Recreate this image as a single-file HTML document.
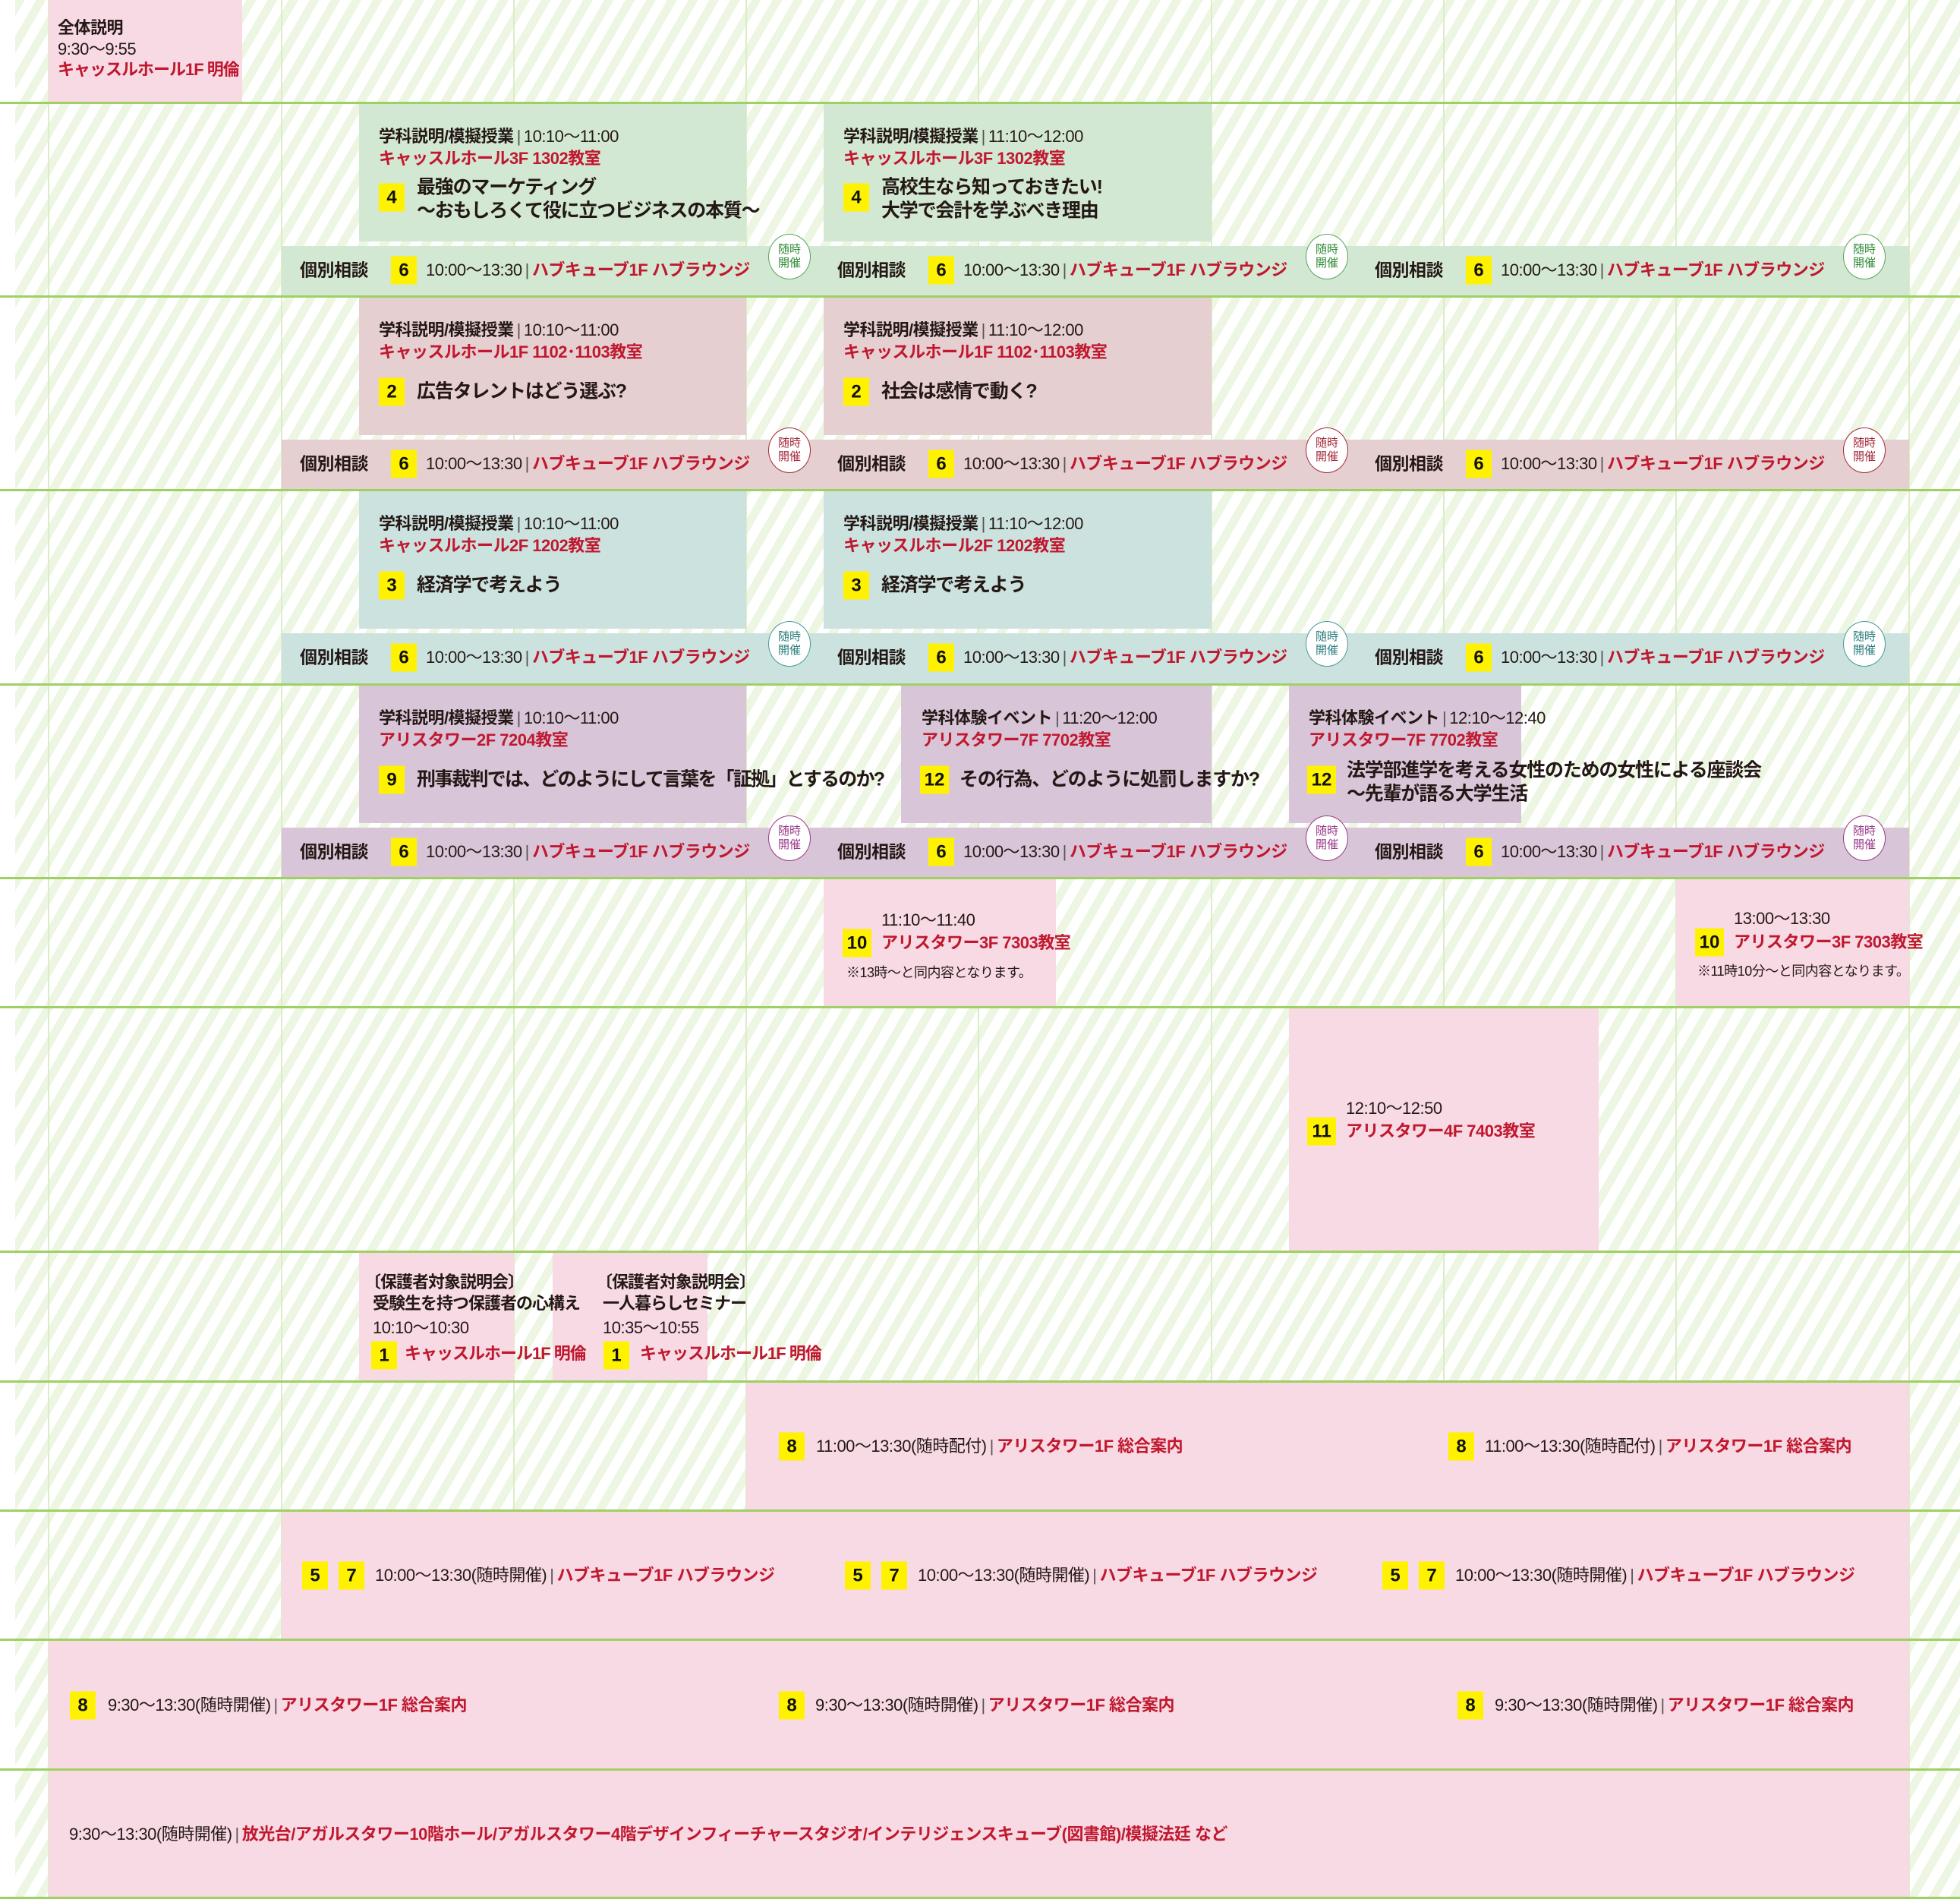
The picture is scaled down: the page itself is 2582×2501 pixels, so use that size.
<!DOCTYPE html>
<html><head><meta charset="utf-8"><style>
*{margin:0;padding:0;box-sizing:border-box}
body{width:2582px;height:2501px;position:relative;background:#fff;font-family:"Liberation Sans","Noto Sans CJK JP",sans-serif;color:#231815;overflow:hidden}
.hatch{position:absolute;left:20px;top:0;width:2562px;height:2501px;background:repeating-linear-gradient(120deg,#edf6e2 0 11px,#fff 11px 24px)}
.r{position:absolute}
.vl{position:absolute;top:0;width:2px;height:2501px;background:#dcedc6}
.hl{position:absolute;left:0;width:2582px;height:3px;background:#9fd064}
.t{position:absolute;white-space:nowrap;font-size:22px;line-height:1;transform:translateY(-50%);letter-spacing:-0.5px}
.bd{font-weight:bold}
.red{color:#c0182f}
.ti{font-size:25px;font-weight:bold;letter-spacing:-1.2px}
.b{position:absolute;width:34px;height:37px;background:#fff200;font-weight:bold;font-size:24px;display:flex;align-items:center;justify-content:center;transform:translateY(-50%);color:#111}
.b2{width:38px}
.sep{color:#555;padding:0 4px}
.bub{position:absolute;width:56px;height:60px;border-radius:50%;background:#fff;border:1.5px solid;font-size:15px;line-height:18px;text-align:center;display:flex;align-items:center;justify-content:center;flex-direction:column}
.sm{font-size:18px}
.n{letter-spacing:-1px}
</style></head><body>
<div class="hatch"></div>

<div class="vl" style="left:63px"></div><div class="vl" style="left:370px"></div><div class="vl" style="left:676px"></div><div class="vl" style="left:982px"></div><div class="vl" style="left:1288px"></div><div class="vl" style="left:1595px"></div><div class="vl" style="left:1901px"></div><div class="vl" style="left:2207px"></div><div class="vl" style="left:2514px"></div>

<div class="r" style="left:64px;top:0;width:255px;height:135px;background:#f8dae4"></div>

<div class="r" style="left:473px;top:135px;width:510px;height:183px;background:#d3e8d2"></div>
<div class="r" style="left:1085px;top:135px;width:511px;height:183px;background:#d3e8d2"></div>
<div class="r" style="left:371px;top:324px;width:2144px;height:66px;background:#d3e8d2"></div>
<div class="r" style="left:473px;top:390px;width:510px;height:183px;background:#e6cfd0"></div>
<div class="r" style="left:1085px;top:390px;width:511px;height:183px;background:#e6cfd0"></div>
<div class="r" style="left:371px;top:579px;width:2144px;height:66px;background:#e6cfd0"></div>
<div class="r" style="left:473px;top:645px;width:510px;height:183px;background:#cce2df"></div>
<div class="r" style="left:1085px;top:645px;width:511px;height:183px;background:#cce2df"></div>
<div class="r" style="left:371px;top:834px;width:2144px;height:66px;background:#cce2df"></div>
<div class="r" style="left:473px;top:901px;width:510px;height:183px;background:#d8c5d8"></div>
<div class="r" style="left:1187px;top:901px;width:409px;height:183px;background:#d8c5d8"></div>
<div class="r" style="left:1698px;top:901px;width:306px;height:183px;background:#d8c5d8"></div>
<div class="r" style="left:371px;top:1090px;width:2144px;height:66px;background:#d8c5d8"></div>
<div class="r" style="left:1085px;top:1156px;width:306px;height:170px;background:#f8dae4"></div>
<div class="r" style="left:2208px;top:1156px;width:307px;height:170px;background:#f8dae4"></div>
<div class="r" style="left:1698px;top:1326px;width:408px;height:322px;background:#f8dae4"></div>
<div class="r" style="left:473px;top:1648px;width:204px;height:171px;background:#f8dae4"></div>
<div class="r" style="left:728px;top:1648px;width:204px;height:171px;background:#f8dae4"></div>
<div class="r" style="left:983px;top:1819px;width:1532px;height:170px;background:#f8dae4"></div>
<div class="r" style="left:371px;top:1989px;width:2144px;height:170px;background:#f8dae4"></div>
<div class="r" style="left:64px;top:2159px;width:2451px;height:171px;background:#f8dae4"></div>
<div class="r" style="left:64px;top:2330px;width:2451px;height:171px;background:#f8dae4"></div>

<div class="hl" style="top:134px"></div><div class="hl" style="top:389px"></div><div class="hl" style="top:644px"></div><div class="hl" style="top:900px"></div><div class="hl" style="top:1155px"></div><div class="hl" style="top:1325px"></div><div class="hl" style="top:1647px"></div><div class="hl" style="top:1818px"></div><div class="hl" style="top:1988px"></div><div class="hl" style="top:2158px"></div><div class="hl" style="top:2329px"></div><div class="hl" style="top:2498px"></div>

<div class="t bd" style="left:76px;top:37px">全体説明</div>
<div class="t" style="left:76px;top:65px">9:30〜9:55</div>
<div class="t bd red n" style="left:76px;top:92px">キャッスルホール1F 明倫</div>

<div class="t" style="left:499px;top:180px"><span class="bd">学科説明/模擬授業</span><span class="sep">|</span>10:10〜11:00</div>
<div class="t bd red" style="left:499px;top:209px">キャッスルホール3F 1302教室</div>
<div class="b" style="left:499px;top:260px">4</div>
<div class="t ti" style="left:549px;top:247px">最強のマーケティング</div>
<div class="t ti" style="left:549px;top:278px">〜おもしろくて役に立つビジネスの本質〜</div>
<div class="t" style="left:1111px;top:180px"><span class="bd">学科説明/模擬授業</span><span class="sep">|</span>11:10〜12:00</div>
<div class="t bd red" style="left:1111px;top:209px">キャッスルホール3F 1302教室</div>
<div class="b" style="left:1111px;top:260px">4</div>
<div class="t ti" style="left:1161px;top:247px">高校生なら知っておきたい!</div>
<div class="t ti" style="left:1161px;top:278px">大学で会計を学ぶべき理由</div>

<div class="t" style="left:499px;top:435px"><span class="bd">学科説明/模擬授業</span><span class="sep">|</span>10:10〜11:00</div>
<div class="t bd red" style="left:499px;top:464px">キャッスルホール1F 1102･1103教室</div>
<div class="b" style="left:499px;top:516px">2</div>
<div class="t ti" style="left:549px;top:516px">広告タレントはどう選ぶ?</div>
<div class="t" style="left:1111px;top:435px"><span class="bd">学科説明/模擬授業</span><span class="sep">|</span>11:10〜12:00</div>
<div class="t bd red" style="left:1111px;top:464px">キャッスルホール1F 1102･1103教室</div>
<div class="b" style="left:1111px;top:516px">2</div>
<div class="t ti" style="left:1161px;top:516px">社会は感情で動く?</div>

<div class="t" style="left:499px;top:690px"><span class="bd">学科説明/模擬授業</span><span class="sep">|</span>10:10〜11:00</div>
<div class="t bd red" style="left:499px;top:719px">キャッスルホール2F 1202教室</div>
<div class="b" style="left:499px;top:771px">3</div>
<div class="t ti" style="left:549px;top:771px">経済学で考えよう</div>
<div class="t" style="left:1111px;top:690px"><span class="bd">学科説明/模擬授業</span><span class="sep">|</span>11:10〜12:00</div>
<div class="t bd red" style="left:1111px;top:719px">キャッスルホール2F 1202教室</div>
<div class="b" style="left:1111px;top:771px">3</div>
<div class="t ti" style="left:1161px;top:771px">経済学で考えよう</div>

<div class="t" style="left:499px;top:946px"><span class="bd">学科説明/模擬授業</span><span class="sep">|</span>10:10〜11:00</div>
<div class="t bd red" style="left:499px;top:975px">アリスタワー2F 7204教室</div>
<div class="b" style="left:499px;top:1027px">9</div>
<div class="t ti" style="left:549px;top:1027px;letter-spacing:-1.8px">刑事裁判では、どのようにして言葉を「証拠」とするのか?</div>
<div class="t" style="left:1214px;top:946px"><span class="bd">学科体験イベント</span><span class="sep">|</span>11:20〜12:00</div>
<div class="t bd red" style="left:1214px;top:975px">アリスタワー7F 7702教室</div>
<div class="b b2" style="left:1212px;top:1027px">12</div>
<div class="t ti" style="left:1264px;top:1027px">その行為、どのように処罰しますか?</div>
<div class="t" style="left:1724px;top:946px"><span class="bd">学科体験イベント</span><span class="sep">|</span>12:10〜12:40</div>
<div class="t bd red" style="left:1724px;top:975px">アリスタワー7F 7702教室</div>
<div class="b b2" style="left:1722px;top:1027px">12</div>
<div class="t ti" style="left:1774px;top:1015px">法学部進学を考える女性のための女性による座談会</div>
<div class="t ti" style="left:1774px;top:1046px">〜先輩が語る大学生活</div>

<div class="t" style="left:1161px;top:1212px">11:10〜11:40</div>
<div class="b b2" style="left:1110px;top:1242px">10</div>
<div class="t bd red" style="left:1161px;top:1242px">アリスタワー3F 7303教室</div>
<div class="t sm" style="left:1115px;top:1281px">※13時〜と同内容となります。</div>
<div class="t" style="left:2284px;top:1210px">13:00〜13:30</div>
<div class="b b2" style="left:2233px;top:1241px">10</div>
<div class="t bd red" style="left:2284px;top:1241px">アリスタワー3F 7303教室</div>
<div class="t sm" style="left:2236px;top:1279px">※11時10分〜と同内容となります。</div>

<div class="t" style="left:1773px;top:1460px">12:10〜12:50</div>
<div class="b b2" style="left:1722px;top:1490px">11</div>
<div class="t bd red" style="left:1773px;top:1490px">アリスタワー4F 7403教室</div>

<div class="t bd n" style="left:480px;top:1689px">〔保護者対象説明会〕</div>
<div class="t bd n" style="left:491px;top:1717px">受験生を持つ保護者の心構え</div>
<div class="t" style="left:491px;top:1749px">10:10〜10:30</div>
<div class="b" style="left:489px;top:1785px">1</div>
<div class="t bd red n" style="left:533px;top:1783px">キャッスルホール1F 明倫</div>
<div class="t bd n" style="left:785px;top:1689px">〔保護者対象説明会〕</div>
<div class="t bd n" style="left:794px;top:1717px">一人暮らしセミナー</div>
<div class="t" style="left:794px;top:1749px">10:35〜10:55</div>
<div class="b" style="left:795px;top:1785px">1</div>
<div class="t bd red n" style="left:843px;top:1783px">キャッスルホール1F 明倫</div>

<div class="b" style="left:1026px;top:1905px">8</div>
<div class="t" style="left:1075px;top:1905px">11:00〜13:30(随時配付)<span class="sep">|</span><span class="bd red">アリスタワー1F 総合案内</span></div>
<div class="b" style="left:1908px;top:1905px">8</div>
<div class="t" style="left:1956px;top:1905px">11:00〜13:30(随時配付)<span class="sep">|</span><span class="bd red">アリスタワー1F 総合案内</span></div>

<div class="b" style="left:398px;top:2075px">5</div><div class="b" style="left:446px;top:2075px">7</div>
<div class="t" style="left:494px;top:2075px">10:00〜13:30(随時開催)<span class="sep">|</span><span class="bd red">ハブキューブ1F ハブラウンジ</span></div>
<div class="b" style="left:1113px;top:2075px">5</div><div class="b" style="left:1161px;top:2075px">7</div>
<div class="t" style="left:1209px;top:2075px">10:00〜13:30(随時開催)<span class="sep">|</span><span class="bd red">ハブキューブ1F ハブラウンジ</span></div>
<div class="b" style="left:1821px;top:2075px">5</div><div class="b" style="left:1869px;top:2075px">7</div>
<div class="t" style="left:1917px;top:2075px">10:00〜13:30(随時開催)<span class="sep">|</span><span class="bd red">ハブキューブ1F ハブラウンジ</span></div>

<div class="b" style="left:92px;top:2246px">8</div>
<div class="t" style="left:142px;top:2246px">9:30〜13:30(随時開催)<span class="sep">|</span><span class="bd red">アリスタワー1F 総合案内</span></div>
<div class="b" style="left:1026px;top:2246px">8</div>
<div class="t" style="left:1074px;top:2246px">9:30〜13:30(随時開催)<span class="sep">|</span><span class="bd red">アリスタワー1F 総合案内</span></div>
<div class="b" style="left:1920px;top:2246px">8</div>
<div class="t" style="left:1969px;top:2246px">9:30〜13:30(随時開催)<span class="sep">|</span><span class="bd red">アリスタワー1F 総合案内</span></div>

<div class="t" style="left:91px;top:2416px">9:30〜13:30(随時開催)<span class="sep">|</span><span class="bd red">放光台/アガルスタワー10階ホール/アガルスタワー4階デザインフィーチャースタジオ/インテリジェンスキューブ(図書館)/模擬法廷 など</span></div>

<div class="t bd" style="left:395px;top:356px;font-size:23px">個別相談</div><div class="b" style="left:515px;top:356px">6</div><div class="t" style="left:561px;top:356px">10:00〜13:30<span class="sep">|</span><span class="bd red">ハブキューブ1F ハブラウンジ</span></div>
<div class="t bd" style="left:1103px;top:356px;font-size:23px">個別相談</div><div class="b" style="left:1223px;top:356px">6</div><div class="t" style="left:1269px;top:356px">10:00〜13:30<span class="sep">|</span><span class="bd red">ハブキューブ1F ハブラウンジ</span></div>
<div class="t bd" style="left:1811px;top:356px;font-size:23px">個別相談</div><div class="b" style="left:1931px;top:356px">6</div><div class="t" style="left:1977px;top:356px">10:00〜13:30<span class="sep">|</span><span class="bd red">ハブキューブ1F ハブラウンジ</span></div>
<div class="bub" style="left:1012px;top:308px;color:#2f8a34;border-color:#5aa55e">随時<br>開催</div>
<div class="bub" style="left:1720px;top:308px;color:#2f8a34;border-color:#5aa55e">随時<br>開催</div>
<div class="bub" style="left:2428px;top:308px;color:#2f8a34;border-color:#5aa55e">随時<br>開催</div>

<div class="t bd" style="left:395px;top:611px;font-size:23px">個別相談</div><div class="b" style="left:515px;top:611px">6</div><div class="t" style="left:561px;top:611px">10:00〜13:30<span class="sep">|</span><span class="bd red">ハブキューブ1F ハブラウンジ</span></div>
<div class="t bd" style="left:1103px;top:611px;font-size:23px">個別相談</div><div class="b" style="left:1223px;top:611px">6</div><div class="t" style="left:1269px;top:611px">10:00〜13:30<span class="sep">|</span><span class="bd red">ハブキューブ1F ハブラウンジ</span></div>
<div class="t bd" style="left:1811px;top:611px;font-size:23px">個別相談</div><div class="b" style="left:1931px;top:611px">6</div><div class="t" style="left:1977px;top:611px">10:00〜13:30<span class="sep">|</span><span class="bd red">ハブキューブ1F ハブラウンジ</span></div>
<div class="bub" style="left:1012px;top:563px;color:#a52a3a;border-color:#a52a3a">随時<br>開催</div>
<div class="bub" style="left:1720px;top:563px;color:#a52a3a;border-color:#a52a3a">随時<br>開催</div>
<div class="bub" style="left:2428px;top:563px;color:#a52a3a;border-color:#a52a3a">随時<br>開催</div>

<div class="t bd" style="left:395px;top:866px;font-size:23px">個別相談</div><div class="b" style="left:515px;top:866px">6</div><div class="t" style="left:561px;top:866px">10:00〜13:30<span class="sep">|</span><span class="bd red">ハブキューブ1F ハブラウンジ</span></div>
<div class="t bd" style="left:1103px;top:866px;font-size:23px">個別相談</div><div class="b" style="left:1223px;top:866px">6</div><div class="t" style="left:1269px;top:866px">10:00〜13:30<span class="sep">|</span><span class="bd red">ハブキューブ1F ハブラウンジ</span></div>
<div class="t bd" style="left:1811px;top:866px;font-size:23px">個別相談</div><div class="b" style="left:1931px;top:866px">6</div><div class="t" style="left:1977px;top:866px">10:00〜13:30<span class="sep">|</span><span class="bd red">ハブキューブ1F ハブラウンジ</span></div>
<div class="bub" style="left:1012px;top:818px;color:#2a7d7d;border-color:#4a9a9a">随時<br>開催</div>
<div class="bub" style="left:1720px;top:818px;color:#2a7d7d;border-color:#4a9a9a">随時<br>開催</div>
<div class="bub" style="left:2428px;top:818px;color:#2a7d7d;border-color:#4a9a9a">随時<br>開催</div>

<div class="t bd" style="left:395px;top:1122px;font-size:23px">個別相談</div><div class="b" style="left:515px;top:1122px">6</div><div class="t" style="left:561px;top:1122px">10:00〜13:30<span class="sep">|</span><span class="bd red">ハブキューブ1F ハブラウンジ</span></div>
<div class="t bd" style="left:1103px;top:1122px;font-size:23px">個別相談</div><div class="b" style="left:1223px;top:1122px">6</div><div class="t" style="left:1269px;top:1122px">10:00〜13:30<span class="sep">|</span><span class="bd red">ハブキューブ1F ハブラウンジ</span></div>
<div class="t bd" style="left:1811px;top:1122px;font-size:23px">個別相談</div><div class="b" style="left:1931px;top:1122px">6</div><div class="t" style="left:1977px;top:1122px">10:00〜13:30<span class="sep">|</span><span class="bd red">ハブキューブ1F ハブラウンジ</span></div>
<div class="bub" style="left:1012px;top:1074px;color:#9a3a8a;border-color:#9a3a8a">随時<br>開催</div>
<div class="bub" style="left:1720px;top:1074px;color:#9a3a8a;border-color:#9a3a8a">随時<br>開催</div>
<div class="bub" style="left:2428px;top:1074px;color:#9a3a8a;border-color:#9a3a8a">随時<br>開催</div>
</body></html>
